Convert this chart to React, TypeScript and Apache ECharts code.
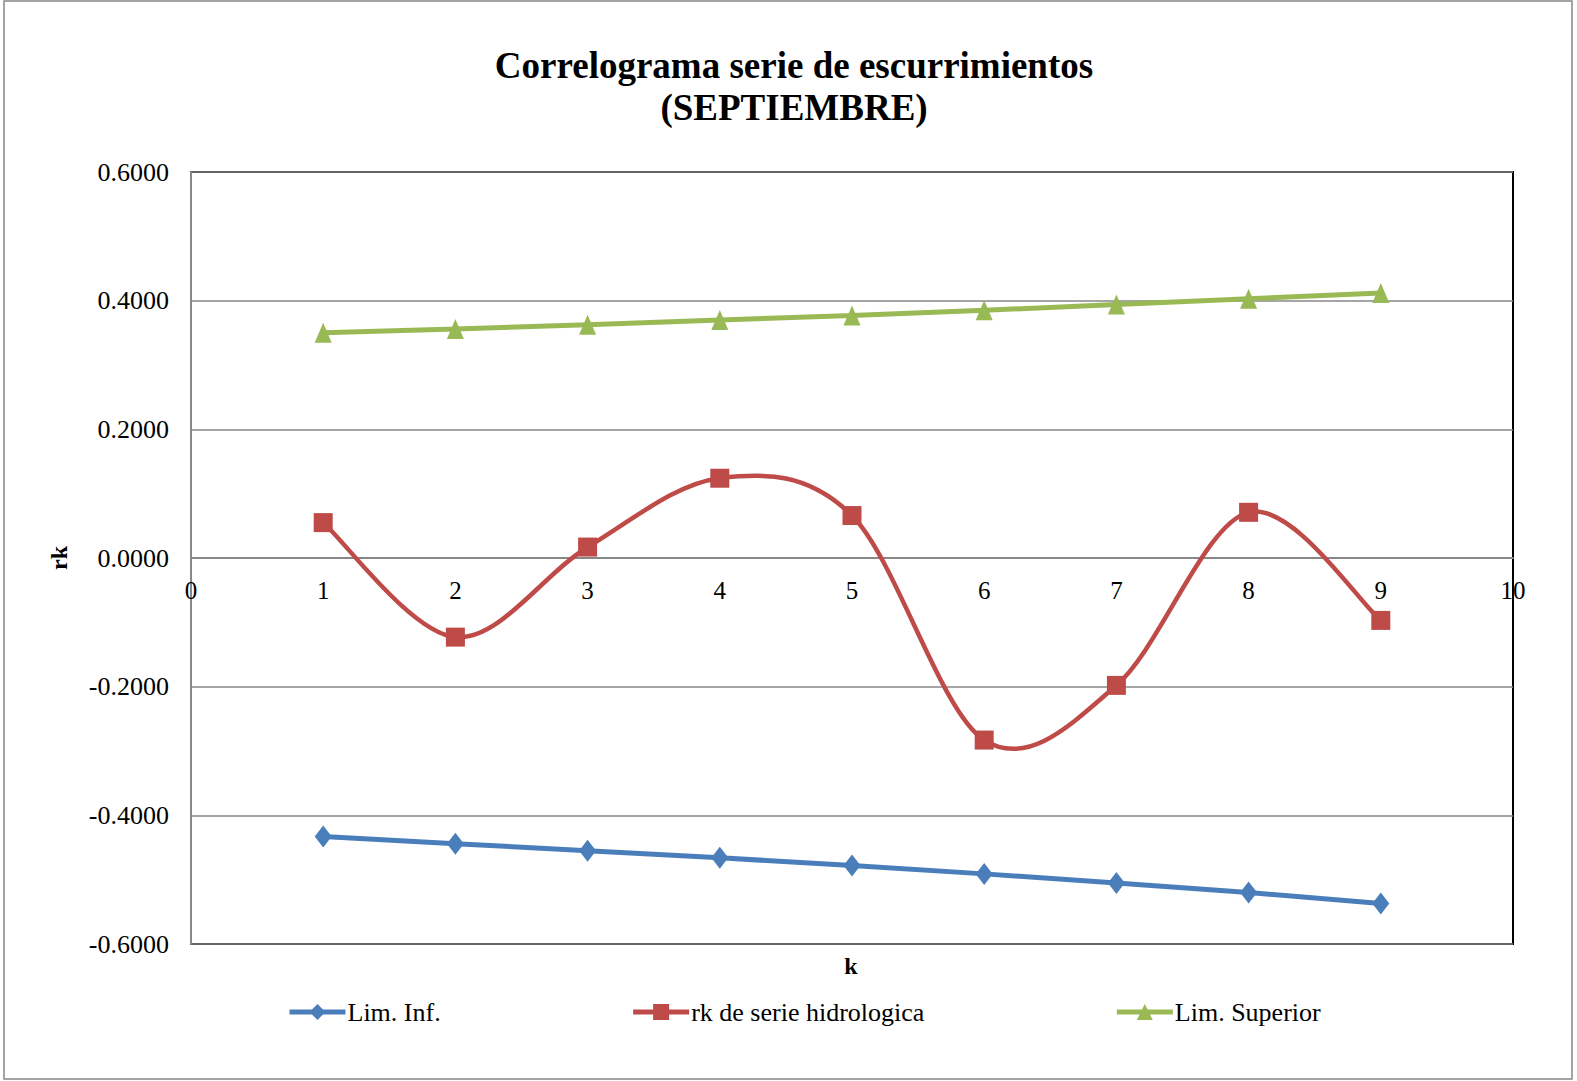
import React, { useEffect, useRef } from "react";
import * as echarts from "echarts";

const kValues = [1, 2, 3, 4, 5, 6, 7, 8, 9];
const limInf = [-0.433, -0.444, -0.455, -0.466, -0.478, -0.491, -0.505, -0.52, -0.537];
const rkSerie = [0.055, -0.123, 0.017, 0.124, 0.066, -0.283, -0.198, 0.071, -0.097];
const limSup = [0.35, 0.356, 0.3625, 0.37, 0.377, 0.385, 0.394, 0.403, 0.412];
const seriesNames = ["Lim. Inf.", "rk de serie hidrologica", "Lim. Superior"];

const FONT = "Liberation Serif";
const BLUE = "#4A7EBB";
const RED = "#BE4B48";
const GREEN = "#98B954";

export default function App() {
  const ref = useRef<HTMLDivElement>(null);
  useEffect(() => {
    document.body.style.margin = "0";
    const chart = echarts.init(ref.current!, null, { renderer: "svg" });
    const pair = (vals: number[]) => kValues.map((k, i) => [k, vals[i]]);
    chart.setOption({
      animation: false,
      backgroundColor: "#ffffff",
      title: {
        text: "Correlograma serie de escurrimientos\n(SEPTIEMBRE)",
        left: 794,
        top: 44,
        padding: 0,
        textAlign: "center",
        textStyle: {
          fontFamily: FONT,
          fontWeight: "bold",
          fontSize: 37,
          lineHeight: 42,
          color: "#000",
        },
      },
      grid: {
        left: 191,
        right: 64,
        top: 172,
        bottom: 137,
        show: true,
        borderColor: "#000",
        borderWidth: 2,
        backgroundColor: "transparent",
      },
      xAxis: {
        type: "value",
        min: 0,
        max: 10,
        interval: 1,
        offset: -386,
        axisLine: { onZero: false, lineStyle: { color: "#878787", width: 2 } },
        axisTick: { show: false },
        splitLine: { show: false },
        axisLabel: {
          fontFamily: FONT,
          fontSize: 25,
          color: "#000",
          margin: 20,
        },
      },
      yAxis: {
        type: "value",
        min: -0.6,
        max: 0.6,
        interval: 0.2,
        name: "rk",
        nameLocation: "middle",
        nameRotate: 90,
        nameGap: 120,
        nameTextStyle: { fontFamily: FONT, fontSize: 24, fontWeight: "bold", color: "#000" },
        axisLine: { show: true, lineStyle: { color: "#878787", width: 2 } },
        axisTick: { show: false },
        splitLine: { lineStyle: { color: "#878787", width: 1.5 } },
        axisLabel: {
          fontFamily: FONT,
          fontSize: 26,
          color: "#000",
          margin: 22,
          formatter: (v: number) => v.toFixed(4),
        },
      },
      legend: {
        top: 999,
        left: 287,
        padding: 0,
        itemGap: 190,
        itemWidth: 56,
        itemHeight: 20,
        textStyle: { fontFamily: FONT, fontSize: 26, color: "#000", padding: [0, 0, 0, -3] },
        data: [
          { name: seriesNames[0], lineStyle: { color: BLUE, width: 5, opacity: 1 } },
          { name: seriesNames[1], lineStyle: { color: RED, width: 5, opacity: 1 } },
          { name: seriesNames[2], lineStyle: { color: GREEN, width: 5, opacity: 1 } },
        ],
      },
      graphic: [
        {
          type: "rect",
          shape: { x: 4, y: 1, width: 1568, height: 1078 },
          style: { fill: "none", stroke: "#868686", lineWidth: 1.5 },
          silent: true,
        },
        {
          type: "text",
          x: 851,
          y: 966,
          style: {
            text: "k",
            fontFamily: FONT,
            fontSize: 24,
            fontWeight: "bold",
            fill: "#000",
            textAlign: "center",
            textVerticalAlign: "middle",
          },
        },
      ],
      series: [
        {
          name: seriesNames[0],
          type: "line",
          data: pair(limInf),
          color: BLUE,
          symbol: "diamond",
          symbolSize: [17, 22],
          lineStyle: { width: 5, color: BLUE },
          itemStyle: { color: BLUE },
          z: 3,
        },
        {
          name: "rkCurve",
          type: "custom",
          data: [0],
          silent: true,
          z: 3,
          renderItem: (_params: any, api: any) => {
            const pts = kValues.map((k, i) => api.coord([k, rkSerie[i]]));
            const children: any[] = [];
            for (let i = 0; i < pts.length - 1; i++) {
              const p0 = pts[Math.max(0, i - 1)];
              const p1 = pts[i];
              const p2 = pts[i + 1];
              const p3 = pts[Math.min(pts.length - 1, i + 2)];
              children.push({
                type: "bezierCurve",
                shape: {
                  x1: p1[0],
                  y1: p1[1],
                  x2: p2[0],
                  y2: p2[1],
                  cpx1: p1[0] + (p2[0] - p0[0]) / 6,
                  cpy1: p1[1] + (p2[1] - p0[1]) / 6,
                  cpx2: p2[0] - (p3[0] - p1[0]) / 6,
                  cpy2: p2[1] - (p3[1] - p1[1]) / 6,
                },
                style: { fill: "none", stroke: RED, lineWidth: 4.5 },
              });
            }
            return { type: "group", children };
          },
        },
        {
          name: seriesNames[1],
          type: "line",
          data: pair(rkSerie),
          color: RED,
          symbol: "rect",
          symbolSize: 19,
          lineStyle: { width: 5, color: RED, opacity: 0 },
          itemStyle: { color: RED },
          z: 4,
        },
        {
          name: seriesNames[2],
          type: "line",
          data: pair(limSup),
          color: GREEN,
          symbol: "triangle",
          symbolSize: [17, 20],
          lineStyle: { width: 5, color: GREEN },
          itemStyle: { color: GREEN },
          z: 3,
        },
      ],
    });
    return () => chart.dispose();
  }, []);
  return <div ref={ref} style={{ width: 1577, height: 1081 }} />;
}
